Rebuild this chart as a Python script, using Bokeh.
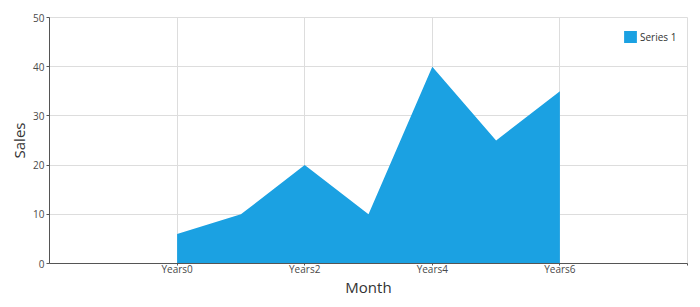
from bokeh.plotting import figure
from bokeh.models import FixedTicker, Range1d, Legend, LegendItem
from bokeh.embed import file_html
from bokeh.resources import INLINE

categories = ["Years0", "Years1", "Years2", "Years3", "Years4", "Years5", "Years6"]
sales = [6, 10, 20, 10, 40, 25, 35]
series_name = "Series 1"
y_ticks = [0, 10, 20, 30, 40, 50]

idx = list(range(len(categories)))

p = figure(width=700, height=307, output_backend="svg", toolbar_location=None,
           x_range=Range1d(-2, 8), y_range=Range1d(0, 50),
           min_border_left=49, min_border_right=13, min_border_top=17, min_border_bottom=44)
p.background_fill_color = "white"
p.border_fill_color = "white"
p.outline_line_color = "#dddddd"
p.outline_line_width = 1

r = p.varea(x=idx, y1=[0] * len(idx), y2=sales, fill_color="#1ba1e2", fill_alpha=1.0)

# x axis
p.xaxis.ticker = FixedTicker(ticks=[0, 2, 4, 6, 8])
p.xaxis.major_label_overrides = {i: categories[i] for i in range(0, len(categories), 2)}
p.xaxis.major_label_overrides[8] = ""
p.xaxis.axis_label = "Month"
p.xaxis.minor_tick_line_color = None
p.xaxis.major_tick_in = 0
p.xaxis.major_tick_out = 2
p.xaxis.major_label_standoff = -4
p.xaxis.axis_label_standoff = -2

# y axis
p.yaxis.ticker = FixedTicker(ticks=y_ticks)
p.yaxis.axis_label = "Sales"
p.yaxis.minor_tick_line_color = None
p.yaxis.major_tick_in = 0
p.yaxis.major_tick_out = 3
p.yaxis.major_label_standoff = 2
p.yaxis.axis_label_standoff = 1

for ax in (p.xaxis, p.yaxis):
    ax.axis_line_color = "#555555"
    ax.axis_line_width = 1
    ax.major_tick_line_color = "#555555"
    ax.major_label_text_font = "Open Sans"
    ax.major_label_text_font_size = "10px"
    ax.major_label_text_color = "#4a4a4a"
    ax.axis_label_text_font = "Open Sans"
    ax.axis_label_text_font_size = "15px"
    ax.axis_label_text_font_style = "normal"
    ax.axis_label_text_color = "#333333"

p.xgrid.grid_line_color = "#dddddd"
p.ygrid.grid_line_color = "#dddddd"

legend = Legend(items=[LegendItem(label=series_name, renderers=[r])],
                location=(573, 219), orientation="vertical",
                glyph_width=16, glyph_height=15, label_standoff=2,
                label_text_font="Open Sans", label_text_font_size="10px",
                label_text_color="#333333", border_line_color=None,
                background_fill_alpha=0, padding=0, margin=0, spacing=0,
                label_height=15)
p.add_layout(legend)

open("out.html", "w").write(file_html(p, INLINE))
